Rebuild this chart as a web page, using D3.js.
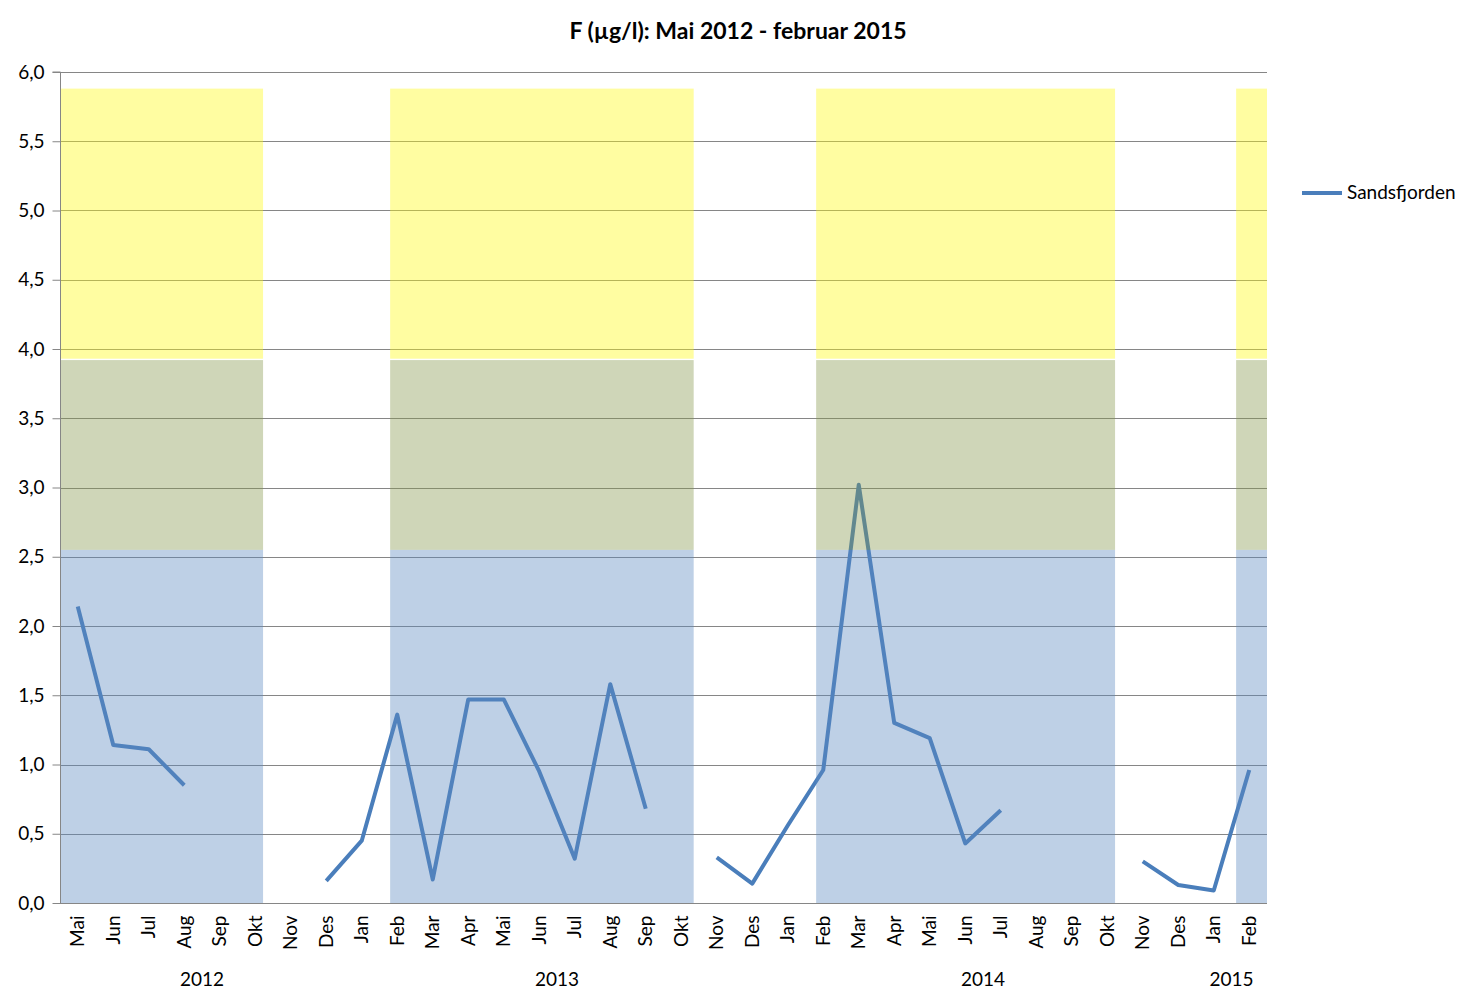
<!DOCTYPE html>
<html>
<head>
<meta charset="utf-8">
<script src="https://cdn.jsdelivr.net/npm/d3@7/dist/d3.min.js"></script>
<style>
  body { margin: 0; background: #fff; }
  svg { display: block; font-family: Lato, "Open Sans", sans-serif; }
</style>
</head>
<body>
<svg id="chart" width="1476" height="1004"></svg>
<script>
// ---- data ----
const months = ["Mai","Jun","Jul","Aug","Sep","Okt","Nov","Des",
  "Jan","Feb","Mar","Apr","Mai","Jun","Jul","Aug","Sep","Okt","Nov","Des",
  "Jan","Feb","Mar","Apr","Mai","Jun","Jul","Aug","Sep","Okt","Nov","Des",
  "Jan","Feb"];
const years = ["2012","2013","2014","2015"];
const yearStartIndex = [0, 8, 20, 32];
const yearEndIndex = [7, 19, 31, 33];
const sandsfjorden = [2.14, 1.14, 1.11, 0.85, null, null, null, 0.16,
  0.45, 1.36, 0.17, 1.47, 1.47, 0.95, 0.32, 1.58, 0.68, null, 0.33, 0.14,
  0.56, 0.96, 3.02, 1.30, 1.19, 0.43, 0.67, null, null, null, 0.30, 0.13,
  0.09, 0.96];
// background class bands (in category units along x)
const bandFrom = [0, 9.3, 21.3, 33.13];
const bandTo = [5.72, 17.85, 29.72, 34];
const classLow = [0, 2.55, 3.93];
const classHigh = [2.55, 3.92, 5.88];
const classColors = ["rgb(92,137,192)", "rgb(135,152,78)", "rgb(255,250,20)"];
const yTicks = [0, 0.5, 1, 1.5, 2, 2.5, 3, 3.5, 4, 4.5, 5, 5.5, 6];
const seriesName = "Sandsfjorden";
const title = "F (µg/l): Mai 2012 - februar 2015";

// ---- layout ----
const svg = d3.select("#chart");
const L = 60, R = 1267, T = 72, B = 903;
const FS = 19;
const n = months.length;
const xc = d3.scaleLinear().domain([0, n]).range([L, R]); // continuous category units
const xb = d3.scaleBand().domain(d3.range(n)).range([L, R]);
const y = d3.scaleLinear().domain([0, 6]).range([B, T]);

// gridlines
svg.append("g").selectAll("line").data(yTicks).join("line")
  .attr("x1", L).attr("x2", R)
  .attr("y1", d => Math.round(y(d)) + 0.5).attr("y2", d => Math.round(y(d)) + 0.5)
  .attr("stroke", "#868686").attr("stroke-width", 1);

// line
const line = d3.line()
  .defined(d => d != null)
  .x((d, i) => xb(i) + xb.bandwidth() / 2)
  .y(d => y(d));
svg.append("path").datum(sandsfjorden)
  .attr("d", line)
  .attr("fill", "none").attr("stroke", "#4a7ebb").attr("stroke-width", 4)
  .attr("stroke-linejoin", "round");

// bands (semi-transparent, on top)
const bands = svg.append("g");
bandFrom.forEach((f, bi) => {
  classLow.forEach((lo, ci) => {
    bands.append("rect")
      .attr("x", xc(f)).attr("width", xc(bandTo[bi]) - xc(f))
      .attr("y", y(classHigh[ci])).attr("height", y(lo) - y(classHigh[ci]))
      .attr("fill", classColors[ci]).attr("fill-opacity", 0.4);
  });
});

// y axis
const yAxis = d3.axisLeft(y).tickValues(yTicks).tickSize(8).tickPadding(8)
  .tickFormat(d => d3.format(".1f")(d).replace(".", ","));
const yg = svg.append("g").attr("transform", `translate(${L + 0.5},0)`).call(yAxis);
yg.select(".domain").attr("stroke", "#868686").attr("d", `M-8,${T}H0V${B}`);
yg.selectAll(".tick line").attr("stroke", "#868686");
yg.selectAll(".tick text").attr("font-size", FS).attr("fill", "#000")
  .attr("font-family", "Lato, 'Open Sans', sans-serif");

// x axis
const xAxis = d3.axisBottom(xb).tickSize(0).tickFormat(i => months[i]);
const xg = svg.append("g").attr("transform", `translate(0,${B + 0.5})`).call(xAxis);
xg.select(".domain").attr("stroke", "#868686").attr("d", `M${L},0H${R}`);
xg.selectAll(".tick text")
  .attr("font-size", FS).attr("fill", "#000")
  .attr("font-family", "Lato, 'Open Sans', sans-serif")
  .attr("transform", "rotate(-90)")
  .attr("text-anchor", "end")
  .attr("x", -12).attr("y", 0).attr("dy", "0.35em");

// year labels
svg.append("g").selectAll("text").data(years).join("text")
  .attr("x", (d, i) => (xb(yearStartIndex[i]) + xb(yearEndIndex[i]) + xb.bandwidth()) / 2)
  .attr("y", 986)
  .attr("text-anchor", "middle").attr("font-size", FS).attr("fill", "#000")
  .text(d => d);

// title
svg.append("text").attr("x", 738).attr("y", 39).attr("text-anchor", "middle")
  .attr("font-size", 23).attr("font-weight", "bold").attr("fill", "#000")
  .text(title);

// legend
svg.append("line").attr("x1", 1302).attr("x2", 1342).attr("y1", 193).attr("y2", 193)
  .attr("stroke", "#4a7ebb").attr("stroke-width", 4);
svg.append("text").attr("x", 1347).attr("y", 199).attr("font-size", FS).attr("fill", "#000")
  .text(seriesName);
</script>
</body>
</html>
